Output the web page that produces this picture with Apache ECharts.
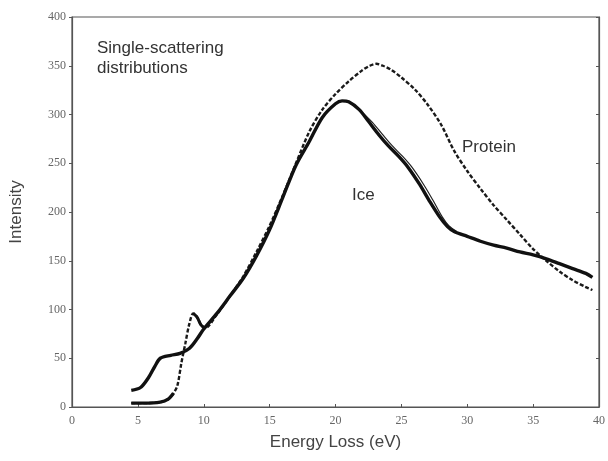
<!DOCTYPE html>
<html>
<head>
<meta charset="utf-8">
<script src="https://cdn.jsdelivr.net/npm/echarts@6/dist/echarts.min.js"></script>
<style>
  html, body { margin: 0; padding: 0; background: #fff; }
  #chart { width: 608px; height: 461px; }
</style>
</head>
<body>
<div id="chart"></div>
<script>
// values (energy loss in eV, intensity)
const proteinX = [4.5, 5.5, 6.7, 7.3, 7.7, 8.0, 8.3, 8.6, 8.9, 9.2, 9.5, 9.8, 10.1, 11, 12, 13, 14, 15, 16, 17, 18, 19, 20, 21, 22, 22.6, 23.1, 23.6, 24.2, 25, 26, 27, 28, 29, 30, 31, 32, 33, 34, 35, 36, 37, 38, 39, 39.5];
const proteinY = [4, 4, 5, 8, 14, 22, 45, 65, 85, 96, 92, 84, 81, 95, 114, 134, 159, 186, 217, 250, 282, 305, 321, 334, 345, 350, 352, 350, 346, 338, 326, 310, 290, 263, 242, 224, 207, 192, 177, 162, 150, 139, 130, 123, 120];

const iceX = [4.5, 5.2, 5.8, 6.3, 6.7, 7.5, 8.2, 8.9, 9.5, 10, 11, 12, 13, 14, 15, 16, 17, 18, 19, 20, 20.5, 21, 21.8, 22.5, 23.3, 24, 24.8, 25.5, 26.4, 27.1, 27.9, 28.5, 29, 30, 31, 32, 33, 34, 35, 36, 37, 38, 39, 39.5];
const iceY = [17, 20, 30, 42, 50, 53, 55, 60, 70, 80, 96, 114, 132, 155, 182, 215, 248, 272, 297, 311, 314, 313, 305, 293, 279, 268, 257, 246, 228, 212, 195, 185, 180, 175, 170, 166, 163, 159, 156, 152, 147, 142, 137, 133];

// thin companion trace on the falling side of the ice curve
const ice2X = [21.8, 22.8, 23.6, 24.3, 25.1, 25.8, 26.7, 27.4, 28.1, 28.6, 29.2];
const ice2Y = [305, 292, 279, 268, 257, 246, 228, 212, 195, 186, 180];

const xTicks = [0, 5, 10, 15, 20, 25, 30, 35, 40];

function pairs(xs, ys) {
    return xs.map(function (x, i) { return [x, ys[i]]; });
}

var chart = echarts.init(document.getElementById('chart'), null, { renderer: 'canvas' });

var axisColor = '#555';
var tickFont = { fontFamily: 'Liberation Serif', fontSize: 12, color: '#666' };
var protein = pairs(proteinX, proteinY);

var option = {
    animation: false,
    backgroundColor: '#fff',
    grid: {
        left: 72, right: 8, top: 17, bottom: 54,
        show: true, borderColor: axisColor, borderWidth: 1.2
    },
    xAxis: {
        type: 'value',
        min: 0, max: 40, interval: 5,
        name: 'Energy Loss (eV)',
        nameLocation: 'middle',
        nameGap: 27,
        nameTextStyle: { fontFamily: 'Liberation Sans', fontSize: 17, color: '#444' },
        axisLine: { lineStyle: { color: axisColor, width: 1.2 } },
        axisTick: { show: true, inside: true, length: 3, lineStyle: { color: axisColor } },
        axisLabel: Object.assign({ margin: 8, formatter: function (v) { return xTicks.indexOf(v) >= 0 ? String(v) : ''; } }, tickFont),
        splitLine: { show: false }
    },
    yAxis: [{
        type: 'value',
        min: 0, max: 400, interval: 50,
        name: 'Intensity',
        nameLocation: 'middle',
        nameGap: 47,
        nameTextStyle: { fontFamily: 'Liberation Sans', fontSize: 17, color: '#444' },
        axisLine: { show: true, lineStyle: { color: axisColor, width: 1.2 } },
        axisTick: { show: true, length: 3, lineStyle: { color: axisColor } },
        axisLabel: Object.assign({ margin: 6 }, tickFont),
        splitLine: { show: false }
    }, {
        type: 'value',
        position: 'right',
        min: 0, max: 400, interval: 50,
        axisLine: { show: true, lineStyle: { color: axisColor, width: 1.2 } },
        axisTick: { show: true, inside: true, length: 3, lineStyle: { color: axisColor } },
        axisLabel: { show: false },
        splitLine: { show: false }
    }],
    series: [{
        name: 'Protein',
        type: 'line',
        data: protein,
        showSymbol: false,
        smooth: 0.3,
        lineStyle: { color: '#1a1a1a', width: 2.4, type: [4, 2] },
        z: 3
    }, {
        // dense flat start of the protein trace prints as a solid band
        name: 'Protein start',
        type: 'line',
        data: protein.slice(0, 5),
        showSymbol: false,
        smooth: 0.3,
        lineStyle: { color: '#111', width: 3.4 },
        z: 3
    }, {
        name: 'Protein hook',
        type: 'line',
        data: protein.slice(9, 13),
        showSymbol: false,
        smooth: 0.3,
        lineStyle: { color: '#111', width: 3 },
        z: 3
    }, {
        name: 'Ice',
        type: 'line',
        data: pairs(iceX, iceY),
        showSymbol: false,
        smooth: 0.3,
        lineStyle: { color: '#111', width: 3.4 },
        z: 4
    }, {
        name: 'Ice trace',
        type: 'line',
        data: pairs(ice2X, ice2Y),
        showSymbol: false,
        smooth: 0.3,
        lineStyle: { color: '#222', width: 1.2 },
        z: 2
    }],
    graphic: [{
        type: 'text',
        left: 97, top: 38,
        style: {
            text: 'Single-scattering\ndistributions',
            font: '17px "Liberation Sans"',
            fill: '#333',
            lineHeight: 20
        }
    }, {
        type: 'text',
        left: 462, top: 139,
        style: { text: 'Protein', font: '17px "Liberation Sans"', fill: '#333' }
    }, {
        type: 'text',
        left: 352, top: 187,
        style: { text: 'Ice', font: '17px "Liberation Sans"', fill: '#333' }
    }]
};

chart.setOption(option);
</script>
</body>
</html>
